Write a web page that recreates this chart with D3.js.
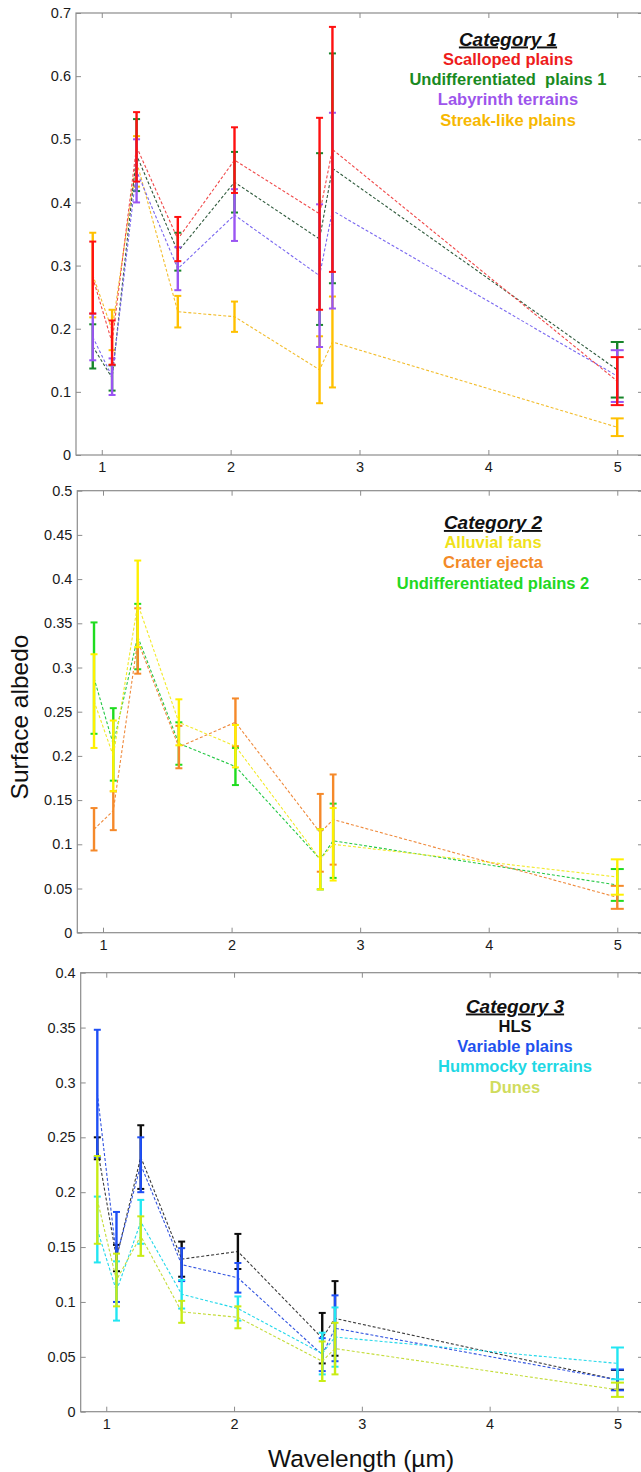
<!DOCTYPE html>
<html>
<head>
<meta charset="utf-8">
<script src="https://cdn.jsdelivr.net/npm/d3@7"></script>
<style>
  html, body { margin: 0; padding: 0; background: #fff; }
  svg { display: block; font-family: "Liberation Sans", Arial, Helvetica, sans-serif; }
</style>
</head>
<body>
<svg id="chart" width="641" height="1472"></svg>
<script>
// ---------- DATA ----------
const wavelengths = [0.93, 1.08, 1.27, 1.59, 2.03, 2.69, 2.79, 5.0];
const xTicks = [1, 2, 3, 4, 5];

// Category 1
const scallopedMean = [0.281, 0.178, 0.488, 0.342, 0.467, 0.382, 0.484, 0.117];
const scallopedErr  = [0.057, 0.035, 0.055, 0.035, 0.052, 0.152, 0.194, 0.038];
const undiff1Mean   = [0.172, 0.122, 0.475, 0.322, 0.432, 0.342, 0.454, 0.135];
const undiff1Err    = [0.035, 0.020, 0.057, 0.030, 0.048, 0.136, 0.182, 0.044];
const labyrinthMean = [0.187, 0.124, 0.450, 0.295, 0.380, 0.284, 0.387, 0.125];
const labyrinthErr  = [0.037, 0.029, 0.050, 0.034, 0.041, 0.113, 0.155, 0.041];
const streakMean    = [0.285, 0.198, 0.465, 0.227, 0.219, 0.135, 0.179, 0.044];
const streakErr     = [0.067, 0.032, 0.040, 0.025, 0.024, 0.053, 0.072, 0.014];

// Category 2
const alluvialMean  = [0.262, 0.200, 0.372, 0.238, 0.211, 0.083, 0.100, 0.063];
const alluvialErr   = [0.053, 0.040, 0.049, 0.026, 0.024, 0.034, 0.041, 0.020];
const ejectaMean    = [0.117, 0.138, 0.330, 0.210, 0.238, 0.113, 0.128, 0.040];
const ejectaErr     = [0.024, 0.022, 0.037, 0.024, 0.027, 0.044, 0.051, 0.013];
const undiff2Mean   = [0.288, 0.213, 0.335, 0.214, 0.188, 0.083, 0.104, 0.054];
const undiff2Err    = [0.063, 0.041, 0.037, 0.024, 0.021, 0.034, 0.042, 0.018];

// Category 3
const hlsMean       = [0.240, 0.140, 0.232, 0.139, 0.146, 0.067, 0.085, 0.029];
const hlsErr        = [0.010, 0.012, 0.029, 0.016, 0.016, 0.023, 0.034, 0.009];
const variableMean  = [0.290, 0.141, 0.225, 0.134, 0.122, 0.052, 0.076, 0.029];
const variableErr   = [0.058, 0.041, 0.025, 0.015, 0.0135, 0.015, 0.030, 0.0095];
const hummockyMean  = [0.166, 0.110, 0.173, 0.107, 0.094, 0.053, 0.068, 0.044];
const hummockyErr   = [0.030, 0.027, 0.020, 0.013, 0.011, 0.019, 0.027, 0.0145];
const dunesMean     = [0.193, 0.120, 0.160, 0.091, 0.086, 0.046, 0.0575, 0.020];
const dunesErr      = [0.040, 0.024, 0.018, 0.010, 0.010, 0.018, 0.0235, 0.0065];

const yTicks1 = [0, 0.1, 0.2, 0.3, 0.4, 0.5, 0.6, 0.7];
const yTicks2 = [0, 0.05, 0.1, 0.15, 0.2, 0.25, 0.3, 0.35, 0.4, 0.45, 0.5];
const yTicks3 = [0, 0.05, 0.1, 0.15, 0.2, 0.25, 0.3, 0.35, 0.4];

const legend1 = ["Scalloped plains", "Undifferentiated  plains 1", "Labyrinth terrains", "Streak-like plains"];
const legend2 = ["Alluvial fans", "Crater ejecta", "Undifferentiated plains 2"];
const legend3 = ["HLS", "Variable plains", "Hummocky terrains", "Dunes"];

// ---------- STYLE / LAYOUT ----------
const svg = d3.select("#chart");
const axisColor = "#8c8c8c";
const textColor = "#1a1a1a";

const panels = [
  {
    title: "Category 1", box: {left: 76, right: 643, top: 13, bottom: 455}, yMax: 0.7, yTicks: yTicks1,
    legendX: 508, legendY: 45.5,
    series: [
      {name: legend1[3], mean: streakMean, err: streakErr, bar: "#ffc000", line: "#f2bd2c", text: "#f7b801", order: 3},
      {name: legend1[1], mean: undiff1Mean, err: undiff1Err, bar: "#17852a", line: "#2f5a3c", text: "#1a8a1f", order: 1},
      {name: legend1[2], mean: labyrinthMean, err: labyrinthErr, bar: "#9a55f2", line: "#7a68f0", text: "#9d55ec", order: 2},
      {name: legend1[0], mean: scallopedMean, err: scallopedErr, bar: "#ff1010", line: "#f04848", text: "#ee1c1c", order: 0}
    ]
  },
  {
    title: "Category 2", box: {left: 77.3, right: 643, top: 490.7, bottom: 932.7}, yMax: 0.5, yTicks: yTicks2,
    legendX: 493, legendY: 529,
    series: [
      {name: legend2[2], mean: undiff2Mean, err: undiff2Err, bar: "#1fdc1f", line: "#25c845", text: "#22d822", order: 2},
      {name: legend2[1], mean: ejectaMean, err: ejectaErr, bar: "#f5892a", line: "#ef8a3c", text: "#f38a28", order: 1},
      {name: legend2[0], mean: alluvialMean, err: alluvialErr, bar: "#fff000", line: "#f2ea2a", text: "#f0e21a", order: 0}
    ]
  },
  {
    title: "Category 3", box: {left: 80.7, right: 643, top: 972.7, bottom: 1411.7}, yMax: 0.4, yTicks: yTicks3,
    legendX: 515, legendY: 1012.5,
    series: [
      {name: legend3[0], mean: hlsMean, err: hlsErr, bar: "#0d0d0d", line: "#3a3a3a", text: "#111111", order: 0},
      {name: legend3[1], mean: variableMean, err: variableErr, bar: "#1f4ff5", line: "#3355e0", text: "#1f52ee", order: 1},
      {name: legend3[2], mean: hummockyMean, err: hummockyErr, bar: "#22e6f2", line: "#22d8ea", text: "#1fd8e4", order: 2},
      {name: legend3[3], mean: dunesMean, err: dunesErr, bar: "#c9ec14", line: "#c4dc3a", text: "#d0dc5c", order: 3}
    ]
  }
];

const fmt = d => d === 0 ? "0" : String(+d.toFixed(2));

panels.forEach(p => {
  const b = p.box;
  const x = d3.scaleLinear().domain([0.8, 5.2]).range([b.left, b.right]);
  const y = d3.scaleLinear().domain([0, p.yMax]).range([b.bottom, b.top]);
  const g = svg.append("g");

  g.append("rect").attr("x", b.left).attr("y", b.top)
    .attr("width", b.right - b.left).attr("height", b.bottom - b.top)
    .attr("fill", "none").attr("stroke", axisColor).attr("stroke-width", 1.2);

  const styleAxis = sel => {
    sel.select(".domain").remove();
    sel.selectAll(".tick line").attr("stroke", axisColor).attr("stroke-width", 1);
    sel.selectAll(".tick text").attr("fill", textColor).attr("font-size", 14.5)
      .attr("font-family", "'Liberation Sans', Arial, Helvetica, sans-serif");
  };

  g.append("g").attr("transform", `translate(0,${b.bottom})`)
    .call(d3.axisBottom(x).tickValues(xTicks).tickFormat(d3.format("d")).tickSizeInner(-5).tickSizeOuter(0).tickPadding(7))
    .call(styleAxis);
  g.append("g").attr("transform", `translate(0,${b.top})`)
    .call(d3.axisTop(x).tickValues(xTicks).tickFormat("").tickSizeInner(-5).tickSizeOuter(0))
    .call(styleAxis);
  g.append("g").attr("transform", `translate(${b.left},0)`)
    .call(d3.axisLeft(y).tickValues(p.yTicks).tickFormat(fmt).tickSizeInner(-5).tickSizeOuter(0).tickPadding(5))
    .call(styleAxis);
  g.append("g").attr("transform", `translate(${b.right},0)`)
    .call(d3.axisRight(y).tickValues(p.yTicks).tickFormat("").tickSizeInner(-5).tickSizeOuter(0))
    .call(styleAxis);

  const line = d3.line().x(d => x(d.w)).y(d => y(d.m));
  p.series.forEach(s => {
    const pts = wavelengths.map((w, i) => ({w, m: s.mean[i], e: s.err[i], i}));
    const sg = g.append("g");
    sg.append("path").datum(pts).attr("d", line)
      .attr("fill", "none").attr("stroke", s.line).attr("stroke-width", 1.1)
      .attr("stroke-dasharray", "3,2");
    const eb = sg.selectAll("g.eb").data(pts).join("g").attr("class", "eb");
    eb.append("line")
      .attr("x1", d => x(d.w)).attr("x2", d => x(d.w))
      .attr("y1", d => y(d.m - d.e)).attr("y2", d => y(d.m + d.e))
      .attr("stroke", s.bar).attr("stroke-width", 2.4);
    const capHalf = d => d.i === wavelengths.length - 1 ? 6.5 : 3.5;
    [-1, 1].forEach(sign => {
      eb.append("line")
        .attr("x1", d => x(d.w) - capHalf(d)).attr("x2", d => x(d.w) + capHalf(d))
        .attr("y1", d => y(d.m + sign * d.e)).attr("y2", d => y(d.m + sign * d.e))
        .attr("stroke", s.bar).attr("stroke-width", 2);
    });
  });

  const lg = g.append("g");
  lg.append("text").attr("x", p.legendX).attr("y", p.legendY)
    .attr("text-anchor", "middle").attr("font-size", 19).attr("font-weight", "bold")
    .attr("font-style", "italic").attr("text-decoration", "underline")
    .attr("fill", "#111").text(p.title);
  const ordered = p.series.slice().sort((a, c) => a.order - c.order);
  ordered.forEach((s, k) => {
    lg.append("text").attr("x", p.legendX).attr("y", p.legendY + 19 + k * 20.4)
      .attr("text-anchor", "middle").attr("font-size", 16.5).attr("font-weight", "bold")
      .attr("fill", s.text).attr("xml:space", "preserve").style("white-space", "pre").text(s.name);
  });
});

svg.append("text").attr("transform", "translate(28,717) rotate(-90)")
  .attr("text-anchor", "middle").attr("font-size", 24.5).attr("fill", "#111").text("Surface albedo");
svg.append("text").attr("x", 361).attr("y", 1467)
  .attr("text-anchor", "middle").attr("font-size", 24.5).attr("fill", "#111").text("Wavelength (µm)");
</script>
</body>
</html>
